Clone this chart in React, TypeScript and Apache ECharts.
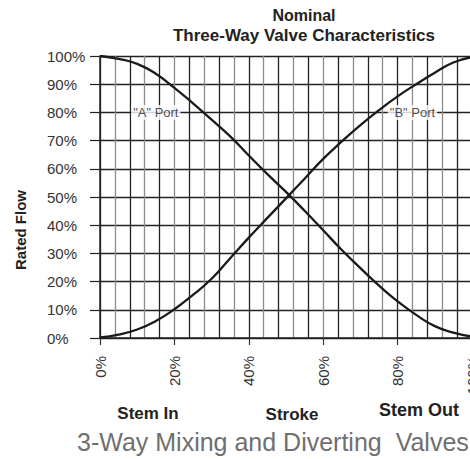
import React, { useEffect, useRef } from 'react';
import * as echarts from 'echarts';

const strokePct = [0, 5, 10, 15, 20, 25, 30, 35, 40, 45, 50, 55, 60, 65, 70, 75, 80, 85, 90, 95, 100];
const portA = [100, 99, 97.2, 93.7, 88.7, 83.2, 77.4, 71.5, 64.7, 58.1, 51.8, 45.1, 38.2, 31.2, 24.8, 18.6, 13, 8.2, 4.2, 1.9, 0.5];
const portB = [0.2, 1.2, 3, 6, 10.2, 15.3, 21, 28.3, 35.6, 42.6, 49.5, 56.5, 63.5, 69.7, 75.5, 80.8, 85.7, 90, 94.1, 97.7, 99.6];
const portLabels = [
  { name: '"A" Port', x: 15, y: 80 },
  { name: '"B" Port', x: 84, y: 80 },
];
const titleLines = ['Nominal', 'Three-Way Valve Characteristics'];
const yAxisName = 'Rated Flow';
const bottomLabels = ['Stem In', 'Stroke', 'Stem Out'];
const caption = '3-Way Mixing and Diverting  Valves';

export default function App() {
  const ref = useRef<HTMLDivElement>(null);
  useEffect(() => {
    const chart = echarts.init(ref.current!, null, { renderer: 'svg' });
    const font = '"Liberation Sans", Arial, Helvetica, sans-serif';
    chart.setOption({
      animation: false,
      backgroundColor: '#ffffff',
      grid: { left: 100, right: -2, top: 56, bottom: 121, containLabel: false, outerBoundsMode: 'none' },
      xAxis: [
        {
          type: 'value', min: 0, max: 100, interval: 20, position: 'bottom',
          axisLine: { show: true, lineStyle: { color: '#222', width: 1.5 } },
          axisTick: { show: true, length: 7, lineStyle: { color: '#333', width: 1.2 } },
          axisLabel: { rotate: 90, margin: 18, formatter: '{value}%', fontSize: 15, color: '#333', fontFamily: font },
          splitLine: { show: false },
        },
        {
          type: 'value', min: 0, max: 100, interval: 4, position: 'bottom',
          axisLine: { show: false }, axisTick: { show: false }, axisLabel: { show: false },
          splitLine: { show: true, lineStyle: { color: ['#222222', '#8c8c8c'], width: 1.3 } },
        },
      ],
      yAxis: {
        type: 'value', min: 0, max: 100, interval: 10,
        axisLine: { show: true, lineStyle: { color: '#222', width: 1.5 } },
        axisTick: { show: true, length: 10, lineStyle: { color: '#222', width: 1.2 } },
        axisLabel: { margin: 53, align: 'left', formatter: '{value}%', fontSize: 15, color: '#333', fontFamily: font, padding: [0, 0, 8, 0] },
        splitLine: { show: true, lineStyle: { color: '#222', width: 1.3 } },
      },
      series: [
        {
          type: 'line', xAxisIndex: 0, data: strokePct.map((x, i) => [x, portA[i]]),
          smooth: true, symbol: 'none', lineStyle: { color: '#1a1a1a', width: 2.3 }, z: 3,
        },
        {
          type: 'line', xAxisIndex: 0, data: strokePct.map((x, i) => [x, portB[i]]),
          smooth: true, symbol: 'none', lineStyle: { color: '#1a1a1a', width: 2.3 }, z: 3,
        },
        {
          type: 'scatter', xAxisIndex: 0, symbolSize: 0, z: 4,
          itemStyle: { color: '#222' },
          data: portLabels.map((p) => ({ name: p.name, value: [p.x, p.y] })),
          label: {
            show: true, position: 'inside', formatter: '{b}', fontSize: 13, color: '#222',
            textBorderWidth: 0, textBorderColor: 'transparent',
            fontFamily: font, backgroundColor: '#ffffff', padding: [1, 2],
          },
        },
      ],
      graphic: [
        { type: 'text', x: 304, y: 15, style: { text: titleLines[0], font: `bold 16px ${font}`, fill: '#222', align: 'center', verticalAlign: 'middle' } },
        { type: 'text', x: 304, y: 35, style: { text: titleLines[1], font: `bold 17px ${font}`, fill: '#222', align: 'center', verticalAlign: 'middle' } },
        { type: 'text', x: 20, y: 230, rotation: Math.PI / 2, style: { text: yAxisName, font: `bold 15px ${font}`, fill: '#222', align: 'center', verticalAlign: 'middle' } },
        { type: 'text', x: 148, y: 413, style: { text: bottomLabels[0], font: `bold 17px ${font}`, fill: '#222', align: 'center', verticalAlign: 'middle' } },
        { type: 'text', x: 292, y: 414, style: { text: bottomLabels[1], font: `bold 17px ${font}`, fill: '#222', align: 'center', verticalAlign: 'middle' } },
        { type: 'text', x: 419, y: 410, style: { text: bottomLabels[2], font: `bold 18px ${font}`, fill: '#222', align: 'center', verticalAlign: 'middle' } },
        { type: 'text', x: 77, y: 442, style: { text: caption, font: `25px ${font}`, fill: '#6f6f6f', align: 'left', verticalAlign: 'middle' } },
      ],
    });
    return () => chart.dispose();
  }, []);
  return <div ref={ref} style={{ width: 470, height: 459, position: 'absolute', left: 0, top: 0 }} />;
}
